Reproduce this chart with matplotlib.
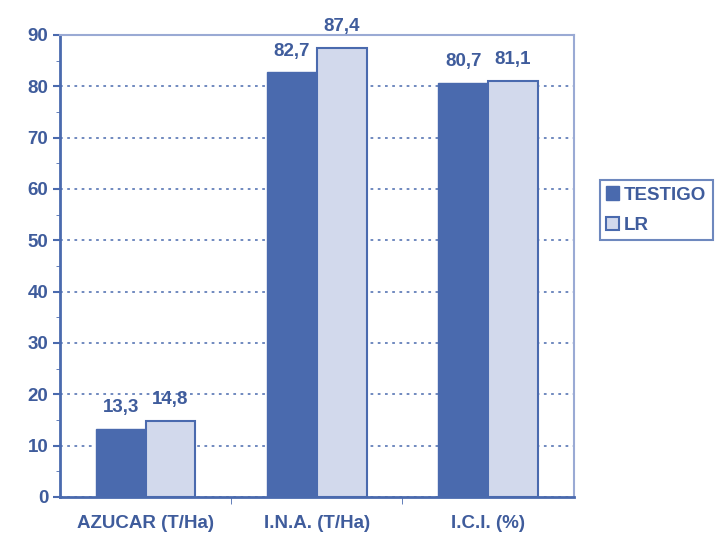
import numpy as np
import matplotlib.pyplot as plt
from matplotlib.ticker import MultipleLocator

plt.rcParams["font.family"] = ["Liberation Sans", "DejaVu Sans"]

categories = ["AZUCAR (T/Ha)", "I.N.A. (T/Ha)", "I.C.I. (%)"]
testigo = [13.3, 82.7, 80.7]
lr = [14.8, 87.4, 81.1]
series_names = ["TESTIGO", "LR"]

BLUE = "#4a6aae"
LIGHT = "#d2d9ec"
TXT = "#3f5c9c"

fig = plt.figure(figsize=(7.19, 5.37), dpi=100)
ax = fig.add_axes([0.0834, 0.0745, 0.7146, 0.8605])

x = np.arange(len(categories))
w = 0.29
b1 = ax.bar(x - w / 2, testigo, w, color=BLUE, edgecolor=BLUE, linewidth=1, label=series_names[0], zorder=3)
b2 = ax.bar(x + w / 2, lr, w, color=LIGHT, edgecolor=BLUE, linewidth=1.5, label=series_names[1], zorder=3)

for bars, vals in ((b1, testigo), (b2, lr)):
    for r, v in zip(bars, vals):
        ax.text(r.get_x() + r.get_width() / 2, v + 2.5, f"{v:.1f}".replace(".", ","),
                ha="center", va="bottom", fontsize=13.5, fontweight="bold", color=TXT)

ax.set_xlim(-0.5, 2.5)
ax.set_ylim(0, 90)
ax.yaxis.set_major_locator(MultipleLocator(10))
ax.yaxis.set_minor_locator(MultipleLocator(5))
ax.grid(axis="y", which="major", linestyle=(0, (1.5, 2.5)), color=BLUE, linewidth=1.3, alpha=0.85, zorder=0)

ax.set_xticks(x)
ax.set_xticklabels(categories, fontsize=13.5, fontweight="bold", color=TXT)
ax.set_xticks([0.5, 1.5], minor=True)
ax.tick_params(axis="x", which="major", length=0, pad=13)
ax.tick_params(axis="x", which="minor", length=5, color=BLUE, direction="out")
ax.tick_params(axis="y", which="major", labelsize=13.5, labelcolor=TXT, color=BLUE, length=5, width=1.5)
ax.tick_params(axis="y", which="minor", color=BLUE, length=3)
for lab in ax.get_yticklabels():
    lab.set_fontweight("bold")

for side in ("left", "bottom"):
    ax.spines[side].set_color(BLUE)
    ax.spines[side].set_linewidth(2)
for side in ("top", "right"):
    ax.spines[side].set_color("#9aaad4")
    ax.spines[side].set_linewidth(1.5)

leg = fig.legend(loc="upper left", bbox_to_anchor=(0.834, 0.665), frameon=True, fancybox=False,
                 prop={"weight": "bold", "size": 13.5}, handlelength=0.7, handleheight=0.7,
                 handletextpad=0.25, borderpad=0.35, labelspacing=0.7, borderaxespad=0)
leg.get_frame().set_edgecolor(BLUE)
leg.get_frame().set_linewidth(1.5)
for t in leg.get_texts():
    t.set_color(TXT)

fig.savefig("out.png", dpi=100)
